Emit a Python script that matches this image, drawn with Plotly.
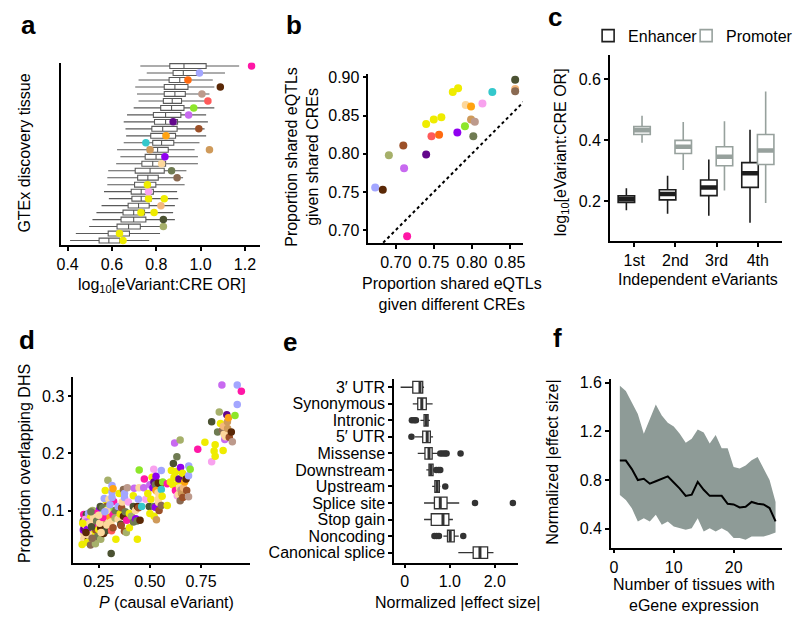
import plotly.graph_objects as go

W, H = 800, 625
FONT = "Liberation Sans, Arial, sans-serif"


def px(x):
    return x / W


def py(y):
    return 1 - y / H


# ---------------- colour palette (tissues) ----------------
COL = {
    "P": "#ff17a6", "L": "#a3a6ff", "O": "#ff6a10", "DB": "#5a2806",
    "RB": "#bd9a8c", "S": "#ff5a5a", "G": "#8de62a", "V": "#c86af0",
    "DP": "#63078c", "BR": "#9c5028", "OR": "#ffa312", "C": "#34c8cc",
    "PE": "#cf9a5a", "PU": "#9000f0", "W": "#fcd79c", "DO": "#6f7b52",
    "BG": "#8a6a52", "Y": "#efec00", "PK": "#f8a2ee", "SA": "#f4b87c",
    "DG": "#4b5232", "KH": "#a6b06a",
}

# ---------------- panel a data ----------------
a_lo = [0.411, 0.437, 0.497, 0.512, 0.530, 0.553, 0.586, 0.564, 0.579, 0.579, 0.583, 0.619, 0.638,
        0.623, 0.653, 0.664, 0.661, 0.653, 0.668, 0.698, 0.720, 0.713, 0.705, 0.720, 0.757, 0.728]
a_q1 = [0.542, 0.583, 0.623, 0.641, 0.650, 0.673, 0.690, 0.687, 0.702, 0.716, 0.705, 0.735, 0.750,
        0.760, 0.784, 0.775, 0.780, 0.792, 0.787, 0.820, 0.832, 0.836, 0.836, 0.858, 0.876, 0.861]
a_med = [0.586, 0.631, 0.675, 0.698, 0.698, 0.720, 0.732, 0.732, 0.753, 0.762, 0.772, 0.784, 0.799,
         0.806, 0.824, 0.832, 0.829, 0.842, 0.842, 0.869, 0.872, 0.884, 0.884, 0.906, 0.922, 0.925]
a_q3 = [0.635, 0.679, 0.728, 0.753, 0.747, 0.768, 0.777, 0.787, 0.798, 0.809, 0.836, 0.842, 0.839,
        0.854, 0.879, 0.887, 0.894, 0.896, 0.911, 0.925, 0.914, 0.931, 0.943, 0.940, 0.995, 1.025]
a_hi = [0.768, 0.817, 0.847, 0.884, 0.876, 0.884, 0.899, 0.894, 0.928, 0.921, 0.936, 0.988, 0.988,
        0.973, 0.995, 1.025, 1.018, 1.033, 1.025, 1.062, 1.045, 1.040, 1.062, 1.055, 1.110, 1.174]
a_dot_row = [0, 1, 2, 3, 4, 4, 5, 6, 6, 7, 8, 9, 10, 11, 12, 13, 13, 14, 15, 16, 17, 18, 19, 20,
             21, 22, 23, 24, 25]
a_dot_val = [0.650, 0.634, 0.832, 0.832, 0.731, 0.790, 0.821, 0.765, 0.836, 0.765, 0.760, 0.894,
             0.869, 0.824, 0.839, 0.772, 1.040, 0.753, 0.844, 0.992, 0.876, 0.946, 0.969, 1.033,
             1.006, 1.089, 0.943, 0.995, 1.230]
a_dot_col = ["Y", "Y", "KH", "DG", "Y", "Y", "SA", "Y", "Y", "PK", "Y", "BG", "DO", "W", "PU", "PE",
             "PE", "C", "OR", "BR", "DP", "V", "G", "S", "RB", "DB", "O", "L", "P"]

# ---------------- panel b data ----------------
b_x = [0.673, 0.683, 0.691, 0.710, 0.711, 0.715, 0.740, 0.740, 0.750, 0.760, 0.747, 0.757, 0.775,
       0.782, 0.781, 0.791, 0.792, 0.799, 0.814, 0.827, 0.799, 0.804, 0.802, 0.857, 0.857, 0.857]
b_y = [0.756, 0.753, 0.798, 0.811, 0.781, 0.692, 0.799, 0.839, 0.845, 0.848, 0.823, 0.825, 0.881,
       0.886, 0.828, 0.836, 0.864, 0.862, 0.866, 0.881, 0.845, 0.842, 0.823, 0.897, 0.885, 0.882]
b_col = ["L", "DB", "KH", "BR", "V", "P", "DP", "Y", "Y", "Y", "S", "O", "Y", "Y", "PU", "G", "W",
         "OR", "PK", "C", "PE", "RB", "DO", "DG", "SA", "BG"]

# ---------------- panel c data ----------------
c_cats = ["1st", "2nd", "3rd", "4th"]
c_enh_lo = [0.171, 0.160, 0.153, 0.130]
c_enh_q1 = [0.197, 0.205, 0.219, 0.246]
c_enh_med = [0.207, 0.224, 0.246, 0.292]
c_enh_q3 = [0.218, 0.238, 0.270, 0.327]
c_enh_hi = [0.243, 0.284, 0.337, 0.435]
c_pro_lo = [0.392, 0.303, 0.236, 0.195]
c_pro_q1 = [0.419, 0.357, 0.317, 0.321]
c_pro_med = [0.433, 0.379, 0.346, 0.367]
c_pro_q3 = [0.445, 0.400, 0.379, 0.419]
c_pro_hi = [0.481, 0.460, 0.463, 0.560]

# ---------------- panel d data ----------------
d_x = [
    0.177, 0.190, 0.175, 0.180, 0.177, 0.177, 0.182, 0.175, 0.180, 0.169, 0.200, 0.195, 0.210,
    0.205, 0.185, 0.195, 0.200, 0.210, 0.215, 0.190, 0.206, 0.225, 0.225, 0.236, 0.230, 0.234,
    0.242, 0.240, 0.233, 0.245, 0.250, 0.250, 0.220, 0.260, 0.258, 0.265, 0.260, 0.270, 0.274,
    0.265, 0.280, 0.285, 0.285, 0.290, 0.287, 0.287, 0.270, 0.282, 0.277, 0.300, 0.300, 0.295,
    0.305, 0.300, 0.310, 0.313, 0.320, 0.315, 0.315, 0.323, 0.320, 0.315, 0.320, 0.330, 0.330,
    0.300, 0.311, 0.334, 0.235,
    0.185, 0.195, 0.205, 0.215, 0.225, 0.240, 0.255, 0.270, 0.290, 0.305, 0.200, 0.218, 0.250,
    0.172, 0.188, 0.212, 0.262, 0.280,
    0.345, 0.345, 0.350, 0.355, 0.358, 0.360, 0.362, 0.365, 0.371, 0.371, 0.376, 0.376, 0.376,
    0.380, 0.385, 0.387, 0.390, 0.395, 0.400, 0.400, 0.410, 0.419, 0.419, 0.420, 0.424, 0.430,
    0.431, 0.437, 0.439, 0.440, 0.444, 0.445, 0.447, 0.452, 0.460,
    0.448, 0.470, 0.473, 0.480, 0.490, 0.497, 0.500, 0.500, 0.505, 0.511, 0.515, 0.519, 0.520,
    0.521, 0.521, 0.527, 0.527, 0.530, 0.530, 0.532, 0.540, 0.540, 0.541, 0.543, 0.545, 0.552,
    0.556, 0.556, 0.556, 0.560, 0.563, 0.585, 0.585,
    0.600, 0.605, 0.612, 0.615, 0.618, 0.621, 0.625, 0.628, 0.632, 0.634, 0.640, 0.640, 0.642,
    0.645, 0.648, 0.648, 0.648, 0.650, 0.652, 0.655, 0.660, 0.661, 0.665, 0.670, 0.677, 0.680,
    0.689, 0.689, 0.690, 0.697,
    0.734, 0.769, 0.802, 0.802, 0.814, 0.819, 0.819, 0.831, 0.839, 0.845, 0.852, 0.855, 0.858,
    0.860, 0.863, 0.866, 0.870, 0.876, 0.879, 0.880, 0.884, 0.888, 0.898, 0.903, 0.916, 0.927,
    0.927, 0.947,
]
d_y = [
    0.093, 0.093, 0.082, 0.072, 0.060, 0.051, 0.055, 0.066, 0.069, 0.041, 0.050, 0.045, 0.040,
    0.065, 0.085, 0.058, 0.095, 0.088, 0.060, 0.080, 0.076, 0.080, 0.070, 0.066, 0.050, 0.042,
    0.076, 0.088, 0.090, 0.055, 0.067, 0.100, 0.100, 0.070, 0.107, 0.085, 0.050, 0.095, 0.060,
    0.092, 0.080, 0.092, 0.065, 0.075, 0.117, 0.107, 0.105, 0.135, 0.121, 0.084, 0.090, 0.153,
    0.100, 0.120, 0.080, 0.065, 0.070, 0.144, 0.132, 0.116, 0.138, 0.123, 0.093, 0.100, 0.087,
    0.105, 0.025, 0.050, 0.095,
    0.075, 0.068, 0.078, 0.072, 0.088, 0.082, 0.078, 0.088, 0.100, 0.110, 0.058, 0.052, 0.092,
    0.078, 0.062, 0.098, 0.062, 0.098,
    0.107, 0.085, 0.130, 0.094, 0.076, 0.074, 0.105, 0.115, 0.137, 0.090, 0.130, 0.123, 0.064,
    0.098, 0.062, 0.083, 0.140, 0.115, 0.095, 0.070, 0.090, 0.126, 0.107, 0.080, 0.139, 0.100,
    0.086, 0.082, 0.050, 0.107, 0.120, 0.105, 0.140, 0.083, 0.107,
    0.171, 0.140, 0.155, 0.120, 0.130, 0.107, 0.095, 0.145, 0.120, 0.158, 0.140, 0.172, 0.150,
    0.107, 0.090, 0.145, 0.106, 0.135, 0.160, 0.084, 0.131, 0.120, 0.148, 0.114, 0.100, 0.146,
    0.170, 0.137, 0.109, 0.125, 0.150, 0.147, 0.109,
    0.150, 0.170, 0.145, 0.182, 0.158, 0.218, 0.135, 0.168, 0.194, 0.126, 0.150, 0.128, 0.155,
    0.140, 0.223, 0.133, 0.117, 0.175, 0.136, 0.130, 0.165, 0.123, 0.140, 0.150, 0.155, 0.135,
    0.161, 0.124, 0.178, 0.172,
    0.207, 0.219, 0.255, 0.185, 0.204, 0.215, 0.195, 0.237, 0.272, 0.252, 0.319, 0.240, 0.205,
    0.247, 0.233, 0.224, 0.229, 0.267, 0.255, 0.243, 0.262, 0.228, 0.237, 0.220, 0.266, 0.319,
    0.285, 0.308,
]
d_col = [
    "P", "DG", "DG", "DG", "W", "W", "W", "PU", "DP", "Y", "DB", "Y", "BG",
    "SA", "PK", "W", "L", "Y", "Y", "V", "P", "W", "PK", "BR", "PE", "KH",
    "P", "W", "DO", "DO", "Y", "PU", "KH", "DB", "DG", "W", "KH", "C", "DB",
    "Y", "PE", "P", "DG", "W", "Y", "BR", "DO", "Y", "L", "W", "OR", "KH",
    "V", "W", "W", "S", "BR", "L", "L", "P", "OR", "L", "P", "DO", "KH",
    "G", "DG", "Y", "P",
    "W", "PU", "W", "DG", "W", "DO", "W", "P", "W", "L", "W", "BG", "W",
    "Y", "DB", "DO", "W", "L",
    "L", "W", "Y", "Y", "DG", "BR", "BR", "W", "BG", "DB", "L", "L", "BR",
    "DO", "KH", "P", "RB", "PK", "Y", "Y", "KH", "Y", "DG", "DO", "V", "W",
    "PU", "DO", "Y", "DB", "L", "BR", "W", "DB", "C",
    "G", "V", "P", "PK", "Y", "DG", "Y", "V", "Y", "Y", "PU", "PK", "DP",
    "DO", "Y", "DO", "PU", "OR", "PU", "PE", "W", "W", "DB", "W", "BR", "DB",
    "L", "C", "BG", "Y", "G", "P", "Y",
    "Y", "Y", "Y", "DG", "Y", "V", "P", "Y", "DO", "PK", "Y", "W", "DP",
    "W", "KH", "W", "BG", "PU", "RB", "PE", "Y", "BR", "SA", "OR", "DB", "BR",
    "L", "RB", "L", "G",
    "P", "Y", "DG", "PK", "Y", "Y", "Y", "DO", "KH", "Y", "V", "BG", "Y",
    "SA", "W", "V", "W", "DP", "PE", "PE", "OR", "BR", "DB", "RB", "G", "L",
    "L", "P",
]

# ---------------- panel e data ----------------
e_cats = ["3′ UTR", "Synonymous", "Intronic", "5′ UTR", "Missense", "Downstream", "Upstream",
          "Splice site", "Stop gain", "Noncoding", "Canonical splice"]
e_lo = [-0.09, 0.18, 0.35, 0.22, 0.29, 0.48, 0.61, 0.43, 0.43, 0.86, 1.19]
e_q1 = [0.18, 0.29, 0.43, 0.40, 0.45, 0.54, 0.67, 0.66, 0.59, 0.95, 1.52]
e_med = [0.34, 0.38, 0.48, 0.50, 0.54, 0.58, 0.72, 0.79, 0.85, 1.01, 1.67]
e_q3 = [0.40, 0.48, 0.52, 0.57, 0.61, 0.63, 0.77, 0.94, 0.98, 1.10, 1.84]
e_hi = [0.43, 0.62, 0.56, 0.63, 0.76, 0.66, 0.79, 1.21, 1.07, 1.20, 1.97]
e_out_cat = ["Intronic", "Intronic", "Intronic", "5′ UTR", "Missense", "Missense", "Missense",
             "Missense", "Missense", "Downstream", "Downstream", "Downstream", "Upstream",
             "Splice site", "Splice site", "Noncoding", "Noncoding", "Noncoding", "Noncoding"]
e_out_val = [0.16, 0.21, 0.25, 0.15, 0.79, 0.84, 0.89, 0.93, 1.24, 0.70, 0.75, 0.79, 0.90,
             1.56, 2.40, 0.66, 0.71, 0.76, 1.30]

# ---------------- panel f data ----------------
f_x = [1, 2, 3, 4, 5, 6, 7, 8, 9, 10, 11, 12, 13, 14, 15, 16, 17, 18, 19, 20, 21, 22, 23, 24, 25,
       26, 27]
f_med = [0.96, 0.96, 0.89, 0.80, 0.81, 0.77, 0.79, 0.81, 0.83, 0.78, 0.73, 0.67, 0.68, 0.785, 0.72,
         0.67, 0.67, 0.67, 0.605, 0.60, 0.575, 0.58, 0.62, 0.605, 0.60, 0.57, 0.46]
f_hi = [1.575, 1.532, 1.437, 1.342, 1.18, 1.30, 1.42, 1.33, 1.27, 1.24, 1.18, 1.106, 1.14, 1.216,
        1.19, 1.10, 1.17, 1.062, 1.062, 0.908, 0.894, 0.92, 0.962, 0.99, 0.894, 0.80, 0.62]
f_lo = [0.677, 0.636, 0.568, 0.46, 0.486, 0.46, 0.514, 0.433, 0.46, 0.419, 0.405, 0.392, 0.405,
        0.486, 0.378, 0.405, 0.378, 0.405, 0.378, 0.324, 0.324, 0.31, 0.337, 0.337, 0.337, 0.351,
        0.37]

# ======================================================================
fig = go.Figure()

# --- a ---
a_rows = list(range(len(a_med)))
fig.add_trace(go.Box(
    y=a_rows, q1=a_q1, median=a_med, q3=a_q3, lowerfence=a_lo, upperfence=a_hi,
    orientation="h", width=0.7, whiskerwidth=0, fillcolor="white",
    line=dict(color="#5a5a5a", width=1.1), xaxis="x", yaxis="y", showlegend=False,
    hoverinfo="skip"))
fig.add_trace(go.Scatter(
    x=a_dot_val, y=a_dot_row, mode="markers", xaxis="x", yaxis="y", showlegend=False,
    marker=dict(size=7.5, color=[COL[c] for c in a_dot_col], line=dict(width=0))))

# --- b ---
fig.add_trace(go.Scatter(
    x=[0.6, 0.95], y=[0.6, 0.95], mode="lines", xaxis="x2", yaxis="y2", showlegend=False,
    line=dict(color="black", width=2, dash="dot")))
fig.add_trace(go.Scatter(
    x=b_x, y=b_y, mode="markers", xaxis="x2", yaxis="y2", showlegend=False,
    marker=dict(size=8, color=[COL[c] for c in b_col], line=dict(width=0))))

# --- c ---
c_pos = list(range(len(c_cats)))
off = 0.19
bw = 0.40
enh_col, pro_col = "#1e1e1e", "#97a19d"
fig.add_trace(go.Box(
    x=[p - off for p in c_pos], q1=c_enh_q1, median=c_enh_med, q3=c_enh_q3,
    lowerfence=c_enh_lo, upperfence=c_enh_hi, width=bw, whiskerwidth=0, fillcolor="white",
    line=dict(color=enh_col, width=1.6), name="Enhancer", xaxis="x3", yaxis="y3",
    legend="legend", hoverinfo="skip"))
fig.add_trace(go.Box(
    x=[p + off for p in c_pos], q1=c_pro_q1, median=c_pro_med, q3=c_pro_q3,
    lowerfence=c_pro_lo, upperfence=c_pro_hi, width=bw, whiskerwidth=0, fillcolor="white",
    line=dict(color=pro_col, width=1.6), name="Promoter", xaxis="x3", yaxis="y3",
    legend="legend2", hoverinfo="skip"))
for sign, meds, col in ((-1, c_enh_med, enh_col), (1, c_pro_med, pro_col)):
    mx, my = [], []
    for p, m in zip(c_pos, meds):
        ctr = p + sign * off
        mx += [ctr - bw / 2, ctr + bw / 2, None]
        my += [m, m, None]
    fig.add_trace(go.Scatter(x=mx, y=my, mode="lines", xaxis="x3", yaxis="y3", showlegend=False,
                             line=dict(color=col, width=4.5), hoverinfo="skip"))

# --- d ---
fig.add_trace(go.Scatter(
    x=d_x, y=d_y, mode="markers", xaxis="x4", yaxis="y4", showlegend=False,
    marker=dict(size=7.5, color=[COL[c] for c in d_col], line=dict(width=0))))

# --- e ---
e_pos = list(range(len(e_cats)))
e_w = 0.7
fig.add_trace(go.Box(
    y=e_pos, q1=e_q1, median=e_med, q3=e_q3, lowerfence=e_lo, upperfence=e_hi,
    orientation="h", width=e_w, whiskerwidth=0, fillcolor="white",
    line=dict(color="#333333", width=1.3), xaxis="x5", yaxis="y5", showlegend=False,
    hoverinfo="skip"))
emx, emy = [], []
for p, m in zip(e_pos, e_med):
    emx += [m, m, None]
    emy += [p - e_w / 2, p + e_w / 2, None]
fig.add_trace(go.Scatter(x=emx, y=emy, mode="lines", xaxis="x5", yaxis="y5", showlegend=False,
                         line=dict(color="#333333", width=3), hoverinfo="skip"))
fig.add_trace(go.Scatter(
    x=e_out_val, y=[e_cats.index(c) for c in e_out_cat], mode="markers", xaxis="x5", yaxis="y5",
    showlegend=False, marker=dict(size=6.5, color="#333333")))

# --- f ---
fig.add_trace(go.Scatter(
    x=f_x + f_x[::-1], y=f_hi + f_lo[::-1], fill="toself", mode="lines", xaxis="x6", yaxis="y6",
    fillcolor="#8e9b97", line=dict(width=0, color="#8e9b97"), showlegend=False,
    hoverinfo="skip"))
fig.add_trace(go.Scatter(
    x=f_x, y=f_med, mode="lines", xaxis="x6", yaxis="y6", showlegend=False,
    line=dict(color="black", width=2)))


# ======================================================================
def axis(domain, rng, anchor, **kw):
    d = dict(domain=domain, range=rng, anchor=anchor, showline=True, linecolor="black",
             linewidth=1.5, ticks="outside", ticklen=4, tickwidth=1.5, tickcolor="black",
             showgrid=False, zeroline=False, tickfont=dict(size=16, color="black"))
    d.update(kw)
    return d


def legend_at(x):
    return dict(orientation="h", x=px(x), y=py(31), xanchor="left", yanchor="middle",
                font=dict(size=16, color="black"), bgcolor="rgba(0,0,0,0)", itemwidth=30,
                borderwidth=0)


layout = dict(
    width=W, height=H, margin=dict(l=0, r=0, t=0, b=0), paper_bgcolor="white",
    plot_bgcolor="white", font=dict(family=FONT, size=16, color="black"),
    # a
    xaxis=axis([px(57), px(258)], [0.372, 1.27], "y", tickvals=[0.4, 0.6, 0.8, 1.0, 1.2],
               tickformat=".1f"),
    yaxis=axis([py(242), py(58)], [-0.65, 25.5], "x", showticklabels=False, ticks=""),
    # b
    xaxis2=axis([px(367), px(523)], [0.664, 0.867], "y2", tickvals=[0.70, 0.75, 0.80, 0.85],
                tickformat=".2f"),
    yaxis2=axis([py(240), py(70)], [0.683, 0.904], "x2", tickvals=[0.70, 0.75, 0.80, 0.85, 0.90],
                tickformat=".2f"),
    # c
    xaxis3=axis([px(611), px(785)], [-0.59, 3.59], "y3", tickvals=c_pos, ticktext=c_cats),
    yaxis3=axis([py(238), py(50)], [0.07, 0.681], "x3", tickvals=[0.2, 0.4, 0.6],
                tickformat=".1f"),
    # d
    xaxis4=axis([px(69), px(247)], [0.126, 0.987], "y4", tickvals=[0.25, 0.50, 0.75],
                tickformat=".2f"),
    yaxis4=axis([py(562), py(375)], [0.0095, 0.333], "x4", tickvals=[0.1, 0.2, 0.3],
                tickformat=".1f"),
    # e
    xaxis5=axis([px(393), px(518)], [-0.235, 2.51], "y5", tickvals=[0, 1.0, 2.0],
                ticktext=["0", "1.0", "2.0"]),
    yaxis5=axis([py(562), py(377)], [10.6, -0.5], "x5", tickvals=e_pos, ticktext=e_cats),
    # f
    xaxis6=axis([px(612), px(785)], [-0.5, 28.1], "y6", tickvals=[0, 10, 20]),
    yaxis6=axis([py(547), py(377)], [0.245, 1.63], "x6", tickvals=[0.4, 0.8, 1.2, 1.6],
                tickformat=".1f"),
    legend=legend_at(589),
    legend2=legend_at(688),
)
fig.update_layout(**layout)


def note(text, x, y, size=16, angle=0, bold=False):
    fig.add_annotation(text=f"<b>{text}</b>" if bold else text, x=px(x), y=py(y),
                       xref="paper", yref="paper", showarrow=False, textangle=angle,
                       xanchor="center", yanchor="middle",
                       font=dict(size=size, color="black", family=FONT))


# panel letters
for letter, (lx, ly) in {"a": (24, 20), "b": (292, 20), "c": (556, 12), "d": (22, 338),
                         "e": (288, 340), "f": (558, 336)}.items():
    note(letter, lx, ly, size=26, bold=True)

# axis titles
note("log<sub>10</sub>[eVariant:CRE OR]", 159, 283)
note("GTEx discovery tissue", 20, 149, angle=-90)
note("Proportion shared eQTLs<br>given shared CREs", 300, 153, angle=-90)
note("Proportion shared eQTLs<br>given different CREs", 452, 291)
note("log<sub>10</sub>[eVariant:CRE OR]", 562, 148, angle=-90)
note("Independent eVariants", 700, 277)
note("Proportion overlapping DHS", 20, 462, angle=-90)
note("<i>P</i> (causal eVariant)", 163, 602)
note("Normalized |effect size|", 457, 602)
note("Normalized |effect size|", 553, 461, angle=-90)
note("Number of tissues with<br>eGene expression", 696, 595)

fig.write_html("out.html", config={"displayModeBar": False},
               post_script="document.body.style.margin='0px';")
